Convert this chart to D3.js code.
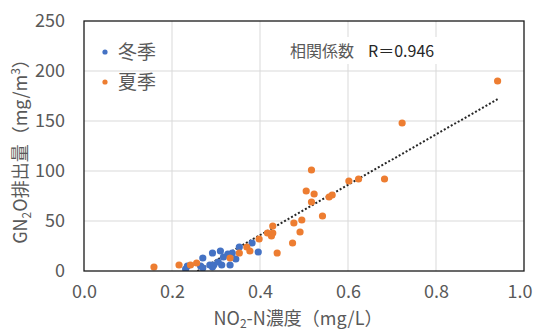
<!DOCTYPE html>
<html>
<head>
<meta charset="utf-8">
<script src="https://cdn.jsdelivr.net/npm/d3@7"></script>
<style>
  body { margin: 0; background: #fff; }
  svg { display: block; }
  text { font-family: "Noto Sans CJK JP", "Noto Sans", sans-serif; }
</style>
</head>
<body>
<svg id="chart"></svg>
<script>
// data
const SERIES_NAMES = ['冬季', '夏季'];
const SERIES_COLORS = ['#4472C4', '#ED7D31'];

const winterX = [0.231, 0.235, 0.265, 0.270, 0.270, 0.286, 0.292, 0.295, 0.292, 0.305,
                 0.310, 0.313, 0.317, 0.327, 0.337, 0.332, 0.345, 0.353, 0.382, 0.396];
const winterY = [2, 5, 5, 3, 13, 6, 4, 6, 18, 9,
                 20, 6, 14, 17, 18, 6, 12, 24, 28, 19];

const summerX = [0.159, 0.216, 0.242, 0.256, 0.332, 0.353, 0.370, 0.377, 0.398, 0.417,
                 0.429, 0.426, 0.429, 0.439, 0.474, 0.477, 0.491, 0.495, 0.505, 0.517,
                 0.517, 0.523, 0.542, 0.557, 0.564, 0.602, 0.624, 0.683, 0.723, 0.940];
const summerY = [4, 6, 6, 8, 13, 18, 24, 20, 32, 38,
                 38, 35, 45, 18, 28, 48, 39, 51, 80, 101,
                 69, 77, 55, 74, 76, 90, 92, 92, 148, 190];

const X_TICKS = [0, 0.2, 0.4, 0.6, 0.8, 1.0];
const Y_TICKS = [0, 50, 100, 150, 200, 250];
const CORR_LABEL = '相関係数';
const CORR_VALUE = 'R＝0.946';

// layout
const W = 534, H = 333;
const M = { left: 84, right: 10, top: 21, bottom: 62 };
const TEXT_GRAY = '#595959';
const GRID_COLOR = '#d9d9d9';

const svg = d3.select('#chart').attr('width', W).attr('height', H);

const x = d3.scaleLinear().domain([0, 1]).range([M.left, W - M.right]);
const y = d3.scaleLinear().domain([0, 250]).range([H - M.bottom, M.top]);

// gridlines
svg.append('g')
    .selectAll('line')
    .data(X_TICKS.slice(1, -1))
    .join('line')
    .attr('x1', d => x(d)).attr('x2', d => x(d))
    .attr('y1', y(0)).attr('y2', y(250))
    .style('stroke', GRID_COLOR).style('stroke-width', 1);

svg.append('g')
    .selectAll('line')
    .data(Y_TICKS.slice(1, -1))
    .join('line')
    .attr('x1', x(0)).attr('x2', x(1))
    .attr('y1', d => y(d)).attr('y2', d => y(d))
    .style('stroke', GRID_COLOR).style('stroke-width', 1);

// tick labels via d3 axes, lines hidden
const xAxis = svg.append('g')
    .attr('transform', `translate(0,${y(0)})`)
    .call(d3.axisBottom(x).tickValues(X_TICKS).tickFormat(d3.format('.1f')).tickSize(0).tickPadding(14));
const yAxis = svg.append('g')
    .attr('transform', `translate(${x(0)},0)`)
    .call(d3.axisLeft(y).tickValues(Y_TICKS).tickSize(0).tickPadding(19));
[xAxis, yAxis].forEach(a => {
    a.select('.domain').remove();
    a.selectAll('text')
        .style('font-family', '"Noto Sans CJK JP", sans-serif')
        .style('font-size', '18px')
        .style('fill', TEXT_GRAY);
});
// last x label is pulled inside the picture, as in the reference
xAxis.selectAll('.tick')
    .filter(d => d === 1)
    .select('text')
    .attr('text-anchor', 'end')
    .attr('x', 532 - x(1));

// trendline (least squares over both seasons)
const allX = winterX.concat(summerX);
const allY = winterY.concat(summerY);
const mx = d3.mean(allX), my = d3.mean(allY);
const slope = d3.sum(allX, (v, i) => (v - mx) * (allY[i] - my)) / d3.sum(allX, v => (v - mx) * (v - mx));
const intercept = my - slope * mx;
const trendStart = Math.max(d3.min(allX), -intercept / slope);
const trendEnd = d3.max(allX);

svg.append('defs').append('clipPath').attr('id', 'plot-clip')
    .append('rect')
    .attr('x', x(0)).attr('y', y(250))
    .attr('width', x(1) - x(0)).attr('height', y(0) - y(250));

const plot = svg.append('g').attr('clip-path', 'url(#plot-clip)');

plot.append('line')
    .attr('x1', x(trendStart)).attr('y1', y(slope * trendStart + intercept))
    .attr('x2', x(trendEnd)).attr('y2', y(slope * trendEnd + intercept))
    .style('stroke', '#262626')
    .style('stroke-width', 2)
    .style('stroke-dasharray', '2,2');

// points: winter first, summer on top
const series = [
    winterX.map((v, i) => ({ x: v, y: winterY[i] })),
    summerX.map((v, i) => ({ x: v, y: summerY[i] }))
];

series.forEach((pts, s) => {
    plot.append('g')
        .selectAll('circle')
        .data(pts)
        .join('circle')
        .attr('cx', d => x(d.x))
        .attr('cy', d => y(d.y))
        .attr('r', 3.6)
        .style('fill', SERIES_COLORS[s]);
});

// plot frame
svg.append('rect')
    .attr('x', x(0)).attr('y', y(250))
    .attr('width', x(1) - x(0)).attr('height', y(0) - y(250))
    .style('fill', 'none')
    .style('stroke', '#1a1a1a')
    .style('stroke-width', 1.3);

// legend
const legend = svg.append('g').selectAll('g')
    .data(SERIES_NAMES)
    .join('g')
    .attr('transform', (d, i) => `translate(105,${52 + i * 30})`);
legend.append('circle')
    .attr('r', 2.6)
    .style('fill', (d, i) => SERIES_COLORS[i]);
legend.append('text')
    .attr('x', 13).attr('y', 7)
    .text(d => d)
    .style('font-size', '19px')
    .style('fill', TEXT_GRAY);

// correlation text box
svg.append('rect')
    .attr('x', 272).attr('y', 37).attr('width', 172).attr('height', 27)
    .style('fill', '#fff');
const corr = svg.append('text')
    .attr('x', 290).attr('y', 57)
    .style('font-size', '16px');
corr.append('tspan').text(CORR_LABEL).style('fill', TEXT_GRAY);
corr.append('tspan').attr('dx', 14).text(CORR_VALUE).style('fill', '#262626');

// axis titles
const xTitle = svg.append('text')
    .attr('x', 298).attr('y', 325)
    .attr('text-anchor', 'middle')
    .style('font-size', '18px')
    .style('fill', TEXT_GRAY);
xTitle.append('tspan').text('NO');
xTitle.append('tspan').text('2').attr('dy', 3).style('font-size', '12px');
xTitle.append('tspan').text('-N濃度（mg/L）').attr('dy', -3);

const yTitle = svg.append('text')
    .attr('transform', 'translate(27,147) rotate(-90)')
    .attr('text-anchor', 'middle')
    .style('font-size', '18px')
    .style('fill', TEXT_GRAY);
yTitle.append('tspan').text('GN');
yTitle.append('tspan').text('2').attr('dy', 4).style('font-size', '12px');
yTitle.append('tspan').text('O排出量（mg/m').attr('dy', -4);
yTitle.append('tspan').text('3').attr('dy', -7).style('font-size', '12px');
yTitle.append('tspan').text('）').attr('dy', 7);
</script>
</body>
</html>
